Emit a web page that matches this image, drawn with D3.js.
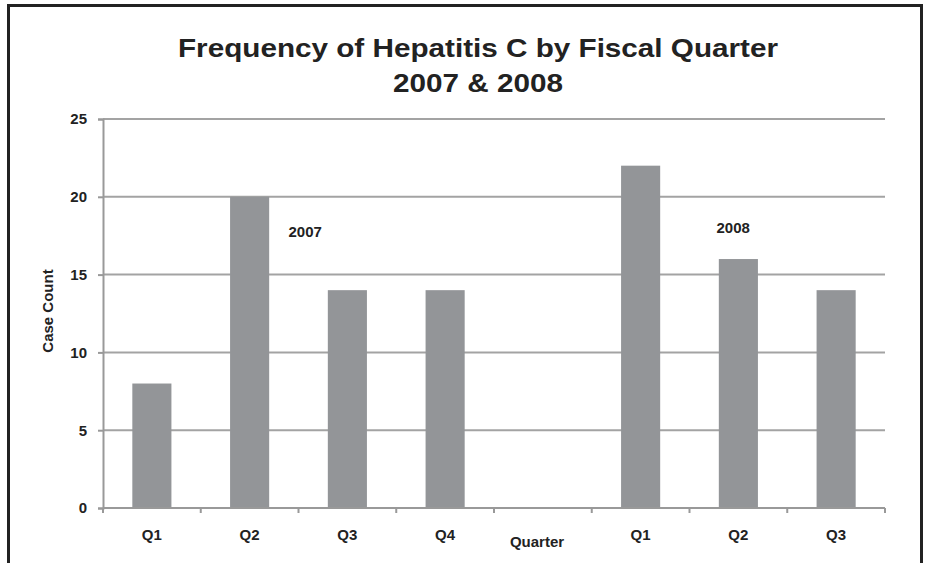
<!DOCTYPE html>
<html>
<head>
<meta charset="utf-8">
<script src="https://cdn.jsdelivr.net/npm/d3@7"></script>
<style>
  body { margin: 0; background: #fff; }
  text { font-family: Arial, "Liberation Sans", sans-serif; font-weight: bold; fill: #222; }
</style>
</head>
<body>
<script>
// slots on the x axis (one empty slot between the two years)
var slots = ["2007-Q1", "2007-Q2", "2007-Q3", "2007-Q4", "gap", "2008-Q1", "2008-Q2", "2008-Q3"];
var tickLabels = ["Q1", "Q2", "Q3", "Q4", "", "Q1", "Q2", "Q3"];
var caseCounts = [8, 20, 14, 14, null, 22, 16, 14];
var yTicks = [0, 5, 10, 15, 20, 25];
var yearNotes = ["2007", "2008"];
var yearNoteSlots = ["2007-Q3", "2008-Q2"];
var yearNoteValues = [17.4, 17.7];

var width = 925, height = 563;
var plotLeft = 103, plotRight = 885, plotTop = 119, plotBottom = 508;

var svg = d3.select("body").append("svg")
  .attr("width", width)
  .attr("height", height);

// frame
svg.append("rect")
  .attr("x", 8.5).attr("y", 5.5)
  .attr("width", 913).attr("height", 600)
  .attr("fill", "none")
  .attr("stroke", "#222")
  .attr("stroke-width", 3);

var x = d3.scaleBand().domain(slots).range([plotLeft, plotRight]).padding(0);
var y = d3.scaleLinear().domain([0, 25]).range([plotBottom, plotTop]);

// title
svg.append("text")
  .attr("x", 478).attr("y", 57)
  .attr("text-anchor", "middle")
  .attr("textLength", 600)
  .attr("lengthAdjust", "spacingAndGlyphs")
  .style("font-size", "26px")
  .text("Frequency of Hepatitis C by Fiscal Quarter");
svg.append("text")
  .attr("x", 478).attr("y", 92)
  .attr("text-anchor", "middle")
  .attr("textLength", 170)
  .attr("lengthAdjust", "spacingAndGlyphs")
  .style("font-size", "26px")
  .text("2007 & 2008");

// gridlines
svg.append("g")
  .selectAll("line")
  .data(yTicks.filter(function(d) { return d > 0 }))
  .enter().append("line")
  .attr("x1", plotLeft).attr("x2", plotRight)
  .attr("y1", function(d) { return y(d) })
  .attr("y2", function(d) { return y(d) })
  .attr("stroke", "#a3a3a3")
  .attr("stroke-width", 2);

// bars
var bw = x.bandwidth() * 0.4;
svg.append("g")
  .selectAll("rect")
  .data(slots.map(function(s, i) { return { slot: s, value: caseCounts[i] } })
    .filter(function(d) { return d.value != null }))
  .enter().append("rect")
  .attr("x", function(d) { return x(d.slot) + (x.bandwidth() - bw) / 2 })
  .attr("width", bw)
  .attr("y", function(d) { return y(d.value) })
  .attr("height", function(d) { return y(0) - y(d.value) })
  .attr("fill", "#939598");

// y axis
var yAxis = svg.append("g")
  .attr("transform", "translate(" + plotLeft + ",0)")
  .call(d3.axisLeft(y).tickValues(yTicks).tickSize(5).tickPadding(11));
yAxis.selectAll("path, line").attr("stroke", "#999").attr("stroke-width", 2);
yAxis.selectAll("text")
  .style("font-size", "15px")
  .style("font-family", "Arial, 'Liberation Sans', sans-serif")
  .attr("fill", "#222");

// x axis, ticks at band edges
var xAxis = svg.append("g")
  .attr("transform", "translate(0," + plotBottom + ")");
xAxis.append("line")
  .attr("x1", plotLeft).attr("x2", plotRight)
  .attr("stroke", "#999").attr("stroke-width", 2);
xAxis.selectAll(".tk")
  .data(slots.concat(["end"]))
  .enter().append("line")
  .attr("class", "tk")
  .attr("x1", function(d, i) { return plotLeft + i * x.bandwidth() })
  .attr("x2", function(d, i) { return plotLeft + i * x.bandwidth() })
  .attr("y1", 0).attr("y2", 5)
  .attr("stroke", "#999").attr("stroke-width", 2);
xAxis.selectAll(".lbl")
  .data(slots)
  .enter().append("text")
  .attr("class", "lbl")
  .attr("x", function(d) { return x(d) + x.bandwidth() / 2 })
  .attr("y", 32)
  .attr("text-anchor", "middle")
  .style("font-size", "15px")
  .text(function(d, i) { return tickLabels[i] });

// axis titles
svg.append("text")
  .attr("x", 537).attr("y", 547)
  .attr("text-anchor", "middle")
  .style("font-size", "15px")
  .text("Quarter");
svg.append("text")
  .attr("transform", "translate(53,311) rotate(-90)")
  .attr("text-anchor", "middle")
  .style("font-size", "15px")
  .text("Case Count");

// year notes
var noteShift = [-10, 27];
svg.selectAll(".note")
  .data(yearNotes)
  .enter().append("text")
  .attr("class", "note")
  .attr("x", function(d, i) { return x(yearNoteSlots[i]) + noteShift[i] })
  .attr("y", function(d, i) { return y(yearNoteValues[i]) })
  .attr("text-anchor", "start")
  .style("font-size", "15px")
  .text(function(d) { return d });
</script>
</body>
</html>
